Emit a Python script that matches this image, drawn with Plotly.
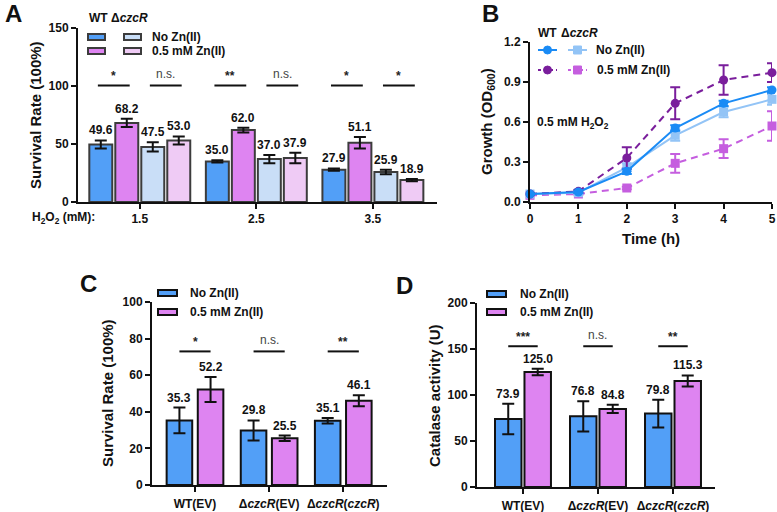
import plotly.graph_objects as go

W, H = 777, 512
FONT = "Arial, 'Liberation Sans', Helvetica, sans-serif"
INK = "#111111"

# ---------------- Panel A data ----------------
A_doses = ["1.5", "2.5", "3.5"]
A_wt_nozn = [49.6, 35.0, 27.9]
A_wt_nozn_err = [3.5, 1.0, 1.0]
A_wt_zn = [68.2, 62.0, 51.1]
A_wt_zn_err = [3.5, 2.0, 5.0]
A_ko_nozn = [47.5, 37.0, 25.9]
A_ko_nozn_err = [4.0, 3.5, 2.0]
A_ko_zn = [53.0, 37.9, 18.9]
A_ko_zn_err = [3.5, 4.5, 1.0]
A_sig = ["*", "n.s.", "**", "n.s.", "*", "*"]
A_sig_y = 100.5
A_yticks = [0, 50, 100, 150]

# ---------------- Panel B data ----------------
B_time = [0, 1, 2, 3, 4, 5]
B_wt_nozn = [0.06, 0.075, 0.23, 0.555, 0.74, 0.84]
B_wt_nozn_err = [0.005, 0.01, 0.02, 0.02, 0.02, 0.02]
B_ko_nozn = [0.06, 0.07, 0.26, 0.50, 0.675, 0.77]
B_ko_nozn_err = [0.005, 0.01, 0.03, 0.04, 0.04, 0.04]
B_wt_zn = [0.06, 0.08, 0.33, 0.74, 0.915, 0.97]
B_wt_zn_err = [0.005, 0.01, 0.08, 0.12, 0.11, 0.07]
B_ko_zn = [0.05, 0.06, 0.105, 0.29, 0.40, 0.57]
B_ko_zn_err = [0.005, 0.005, 0.01, 0.07, 0.07, 0.11]
B_yticks = [0.0, 0.3, 0.6, 0.9, 1.2]

# ---------------- Panel C data ----------------
CD_strains = ["WT(EV)", "Δ<i>czcR</i>(EV)", "Δ<i>czcR</i>(<i>czcR</i>)"]
C_nozn = [35.3, 29.8, 35.1]
C_nozn_err = [7.0, 5.5, 1.5]
C_zn = [52.2, 25.5, 46.1]
C_zn_err = [6.8, 1.5, 3.0]
C_sig = ["*", "n.s.", "**"]
C_sig_y = 73
C_yticks = [0, 20, 40, 60, 80, 100]

# ---------------- Panel D data ----------------
D_nozn = [73.9, 76.8, 79.8]
D_nozn_err = [16.5, 16.5, 15.0]
D_zn = [125.0, 84.8, 115.3]
D_zn_err = [3.5, 4.5, 6.0]
D_sig = ["***", "n.s.", "**"]
D_sig_y = 153
D_yticks = [0, 50, 100, 150, 200]

# colours
COL_BLUE = "#529FF7"
COL_VIOLET = "#DE84F1"
COL_LBLUE = "#C9DEF7"
COL_LPINK = "#EFCBF5"
LN_WT = "#1A8BF5"
LN_KO = "#93C4F6"
LN_WTZ = "#7A1E9C"
LN_KOZ = "#C55EDF"
DASH = "7px,5px"


def px(x):
    return x / W


def py(y):
    return 1 - y / H


fig = go.Figure()
shapes = []
annots = []


def bar_set(series, errs, colors, xa, ya, slot, width, outline, names):
    n = len(series)
    centers = []
    for i, (vals, err, col, nm) in enumerate(zip(series, errs, colors, names)):
        c = (i - (n - 1) / 2) * slot
        centers.append(c)
        xs = list(range(len(vals)))
        fig.add_trace(go.Bar(
            x=xs, y=vals, width=width, offset=c - width / 2, name=nm,
            marker=dict(color=col, line=dict(color=outline, width=2)),
            error_y=dict(type="data", array=err, color=INK, thickness=2, width=6),
            xaxis=xa, yaxis=ya, showlegend=False, cliponaxis=False,
        ))
        for g, (v, e) in enumerate(zip(vals, err)):
            annots.append(dict(
                x=g + c, y=v + e, xref=xa, yref=ya, text=f"{v:.1f}",
                showarrow=False, yanchor="bottom", yshift=1,
                font=dict(family=FONT, size=12, color=INK, weight="bold"),
            ))
    return centers


def sig_marks(pairs, labels, sig_y, xa, ya, ext):
    for (x0, x1), lab in zip(pairs, labels):
        shapes.append(dict(type="line", xref=xa, yref=ya, x0=x0 - ext, x1=x1 + ext,
                           y0=sig_y, y1=sig_y, line=dict(color=INK, width=2)))
        star = lab != "n.s."
        annots.append(dict(
            x=(x0 + x1) / 2, y=sig_y, xref=xa, yref=ya, text=lab, showarrow=False,
            yanchor="bottom", yshift=0 if star else 2,
            font=dict(family=FONT, size=12, color="#222" if star else "#444",
                      weight="bold" if star else "normal"),
        ))


# ---------------- Panel A bars ----------------
cA = bar_set([A_wt_nozn, A_wt_zn, A_ko_nozn, A_ko_zn],
             [A_wt_nozn_err, A_wt_zn_err, A_ko_nozn_err, A_ko_zn_err],
             [COL_BLUE, COL_VIOLET, COL_LBLUE, COL_LPINK], "x", "y",
             slot=0.223, width=0.197, outline="#3C3C3C",
             names=["WT No Zn(II)", "WT 0.5 mM Zn(II)", "ΔczcR No Zn(II)", "ΔczcR 0.5 mM Zn(II)"])
pairsA = []
for g in range(len(A_doses)):
    pairsA.append((g + cA[0], g + cA[1]))
    pairsA.append((g + cA[2], g + cA[3]))
sig_marks(pairsA, A_sig, A_sig_y, "x", "y", 0.025)


# ---------------- Panel B lines ----------------
def line_trace(y, err, col, dash, symbol, name):
    fig.add_trace(go.Scatter(
        x=B_time, y=y, mode="lines+markers", name=name,
        line=dict(color=col, width=2, dash=dash),
        marker=dict(color=col, size=9, symbol=symbol),
        error_y=dict(type="data", array=err, color=col, thickness=2, width=5),
        xaxis="x2", yaxis="y2", showlegend=False, cliponaxis=False,
    ))


line_trace(B_ko_zn, B_ko_zn_err, LN_KOZ, DASH, "square", "ΔczcR 0.5 mM Zn(II)")
line_trace(B_ko_nozn, B_ko_nozn_err, LN_KO, "solid", "square", "ΔczcR No Zn(II)")
line_trace(B_wt_zn, B_wt_zn_err, LN_WTZ, DASH, "circle", "WT 0.5 mM Zn(II)")
line_trace(B_wt_nozn, B_wt_nozn_err, LN_WT, "solid", "circle", "WT No Zn(II)")

# ---------------- Panel C bars ----------------
cC = bar_set([C_nozn, C_zn], [C_nozn_err, C_zn_err], [COL_BLUE, COL_VIOLET],
             "x3", "y3", slot=0.42, width=0.345, outline=INK,
             names=["No Zn(II)", "0.5 mM Zn(II)"])
sig_marks([(g + cC[0], g + cC[1]) for g in range(3)], C_sig, C_sig_y, "x3", "y3", 0.0)

# ---------------- Panel D bars ----------------
cD = bar_set([D_nozn, D_zn], [D_nozn_err, D_zn_err], [COL_BLUE, COL_VIOLET],
             "x4", "y4", slot=0.393, width=0.353, outline=INK,
             names=["No Zn(II)", "0.5 mM Zn(II)"])
sig_marks([(g + cD[0], g + cD[1]) for g in range(3)], D_sig, D_sig_y, "x4", "y4", 0.0)


# ---------------- Legends / free text ----------------
def txt(x, y, s, size=12, anchor="left", weight="bold", color=INK, angle=0):
    annots.append(dict(x=px(x), y=py(y), xref="paper", yref="paper", text=s,
                       showarrow=False, xanchor=anchor, yanchor="middle", textangle=angle,
                       font=dict(family=FONT, size=size, color=color, weight=weight)))


def swatch(x0, x1, yc, col, outline):
    shapes.append(dict(type="rect", xref="paper", yref="paper",
                       x0=px(x0), x1=px(x1), y0=py(yc + 3), y1=py(yc - 3),
                       fillcolor=col, line=dict(color=outline, width=2)))


# A legend
txt(87, 18, "WT", 12)
txt(109, 18, "Δ<i>czcR</i>", 12)
swatch(88, 105, 37, COL_BLUE, "#3C3C3C")
swatch(88, 105, 51, COL_VIOLET, "#3C3C3C")
swatch(124, 141, 37, COL_LBLUE, "#3C3C3C")
swatch(124, 141, 51, COL_LPINK, "#3C3C3C")
txt(150, 37, "No Zn(II)")
txt(150, 51, "0.5 mM Zn(II)")

# B legend
txt(536, 33, "WT", 12)
txt(559, 33, "Δ<i>czcR</i>", 12)


def leg_line(x0, x1, yc, col, dash, symbol):
    shapes.append(dict(type="line", xref="paper", yref="paper", x0=px(x0), x1=px(x1),
                       y0=py(yc), y1=py(yc), line=dict(color=col, width=2, dash=dash)))
    xm = (x0 + x1) / 2
    r = 4
    shapes.append(dict(type="circle" if symbol == "circle" else "rect",
                       xref="paper", yref="paper", x0=px(xm - r), x1=px(xm + r),
                       y0=py(yc + r), y1=py(yc - r), fillcolor=col, line=dict(color=col, width=1)))


leg_line(538, 557, 50, LN_WT, "solid", "circle")
leg_line(568, 587, 50, LN_KO, "solid", "square")
leg_line(538, 557, 70, LN_WTZ, "3px,3px", "circle")
leg_line(568, 587, 70, LN_KOZ, "3px,3px", "square")
txt(594, 50, "No Zn(II)")
txt(595, 70, "0.5 mM Zn(II)")
txt(535, 123, "0.5 mM H<sub>2</sub>O<sub>2</sub>", 12)

# C legend
swatch(158, 177, 293, COL_BLUE, INK)
swatch(158, 177, 312, COL_VIOLET, INK)
txt(188, 293, "No Zn(II)")
txt(188, 312, "0.5 mM Zn(II)")

# D legend
swatch(487, 506, 294, COL_BLUE, INK)
swatch(487, 506, 312, COL_VIOLET, INK)
txt(518, 294, "No Zn(II)")
txt(518, 312, "0.5 mM Zn(II)")

# axis titles and labels
txt(30, 218, "H<sub>2</sub>O<sub>2</sub> (mM):", 12)
txt(35, 115, "Survival Rate (100%)", 15, anchor="center", angle=-90)
txt(487, 122, "Growth (OD<sub>600</sub>)", 15, anchor="center", angle=-90)
txt(651, 238, "Time (h)", 15, anchor="center")
txt(107, 393, "Survival Rate (100%)", 15, anchor="center", angle=-90)
txt(434, 395, "Catalase activity (U)", 15, anchor="center", angle=-90)

# Panel letters
txt(13, 13, "A", 24, anchor="center")
txt(490, 13, "B", 24, anchor="center")
txt(88, 283, "C", 24, anchor="center")
txt(405, 285, "D", 24, anchor="center")

# ---------------- Axes ----------------
tickfont = dict(family=FONT, size=12, color=INK, weight="bold")
common = dict(showline=True, linewidth=2, linecolor=INK, ticks="outside", ticklen=5,
              tickwidth=2, tickcolor=INK, showgrid=False, zeroline=False,
              tickfont=tickfont, fixedrange=True, automargin=False, tickangle=0)

fig.update_layout(
    width=W, height=H, margin=dict(l=0, r=0, t=0, b=0, pad=0, autoexpand=False),
    paper_bgcolor="white", plot_bgcolor="rgba(0,0,0,0)",
    barmode="overlay", showlegend=False,
    font=dict(family=FONT, color=INK),
    xaxis=dict(domain=[px(78), px(437)], range=[-0.53, 2.55], anchor="y",
               tickvals=[0, 1, 2], ticktext=A_doses, **common),
    yaxis=dict(domain=[py(202), py(28)], range=[0, 150], anchor="x", tickvals=A_yticks, **common),
    xaxis2=dict(domain=[px(530), px(772)], range=[0, 5], anchor="y2", tickvals=B_time, **common),
    yaxis2=dict(domain=[py(202), py(42)], range=[0, 1.2], anchor="x2", tickvals=B_yticks,
                tickformat=".1f", **common),
    xaxis3=dict(domain=[px(152), px(387)], range=[-0.58, 2.59], anchor="y3",
                tickvals=[0, 1, 2], ticktext=CD_strains, ticklabelstandoff=2, **common),
    yaxis3=dict(domain=[py(485), py(302)], range=[0, 100], anchor="x3", tickvals=C_yticks, **common),
    xaxis4=dict(domain=[px(477), px(715)], range=[-0.613, 2.56], anchor="y4",
                tickvals=[0, 1, 2], ticktext=CD_strains, ticklabelstandoff=2, **common),
    yaxis4=dict(domain=[py(487), py(303)], range=[0, 200], anchor="x4", tickvals=D_yticks, **common),
    shapes=shapes,
    annotations=annots,
)

fig.write_html(
    "out.html",
    config={"displayModeBar": False},
    post_script="document.body.style.margin='0px';document.body.style.overflow='hidden';",
)
